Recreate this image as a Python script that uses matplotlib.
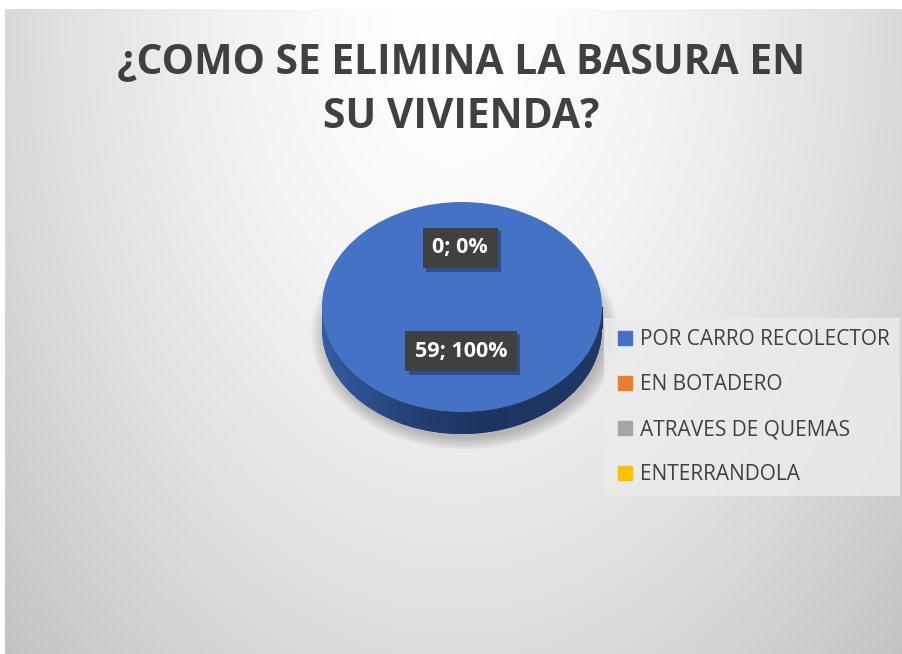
import numpy as np
import matplotlib
matplotlib.use("Agg")
import matplotlib.pyplot as plt
from matplotlib.patches import Rectangle
from matplotlib.lines import Line2D
import matplotlib.patheffects as pe

title = "¿COMO SE ELIMINA LA BASURA EN\nSU VIVIENDA?"
categories = ["POR CARRO RECOLECTOR", "EN BOTADERO", "ATRAVES DE QUEMAS", "ENTERRANDOLA"]
values = [59, 0, 0, 0]
colors = ["#4472C4", "#ED7D31", "#A5A5A5", "#FFC000"]

W, H = 902, 654
fig = plt.figure(figsize=(W / 100, H / 100), dpi=100)
fig.patch.set_facecolor("white")

# background radial gradient (chart area)
bg = fig.add_axes([5 / W, 0, (W - 5) / W, (H - 9) / H])
bg.set_axis_off()
yy, xx = np.mgrid[0:645, 0:897]
cx, cy = 450, 0
r = np.sqrt(((xx - cx) / 560.0) ** 2 + ((yy - cy) / 850.0) ** 2)
val = np.clip(1.0 - 0.205 * r ** 1.5, 0.75, 1)
img = np.dstack([val, val, val])
bg.imshow(img, aspect="auto", extent=[0, 1, 0, 1], origin="upper", interpolation="bilinear")
bg.set_xlim(0, 1)
bg.set_ylim(0, 1)

# pie axes (top face ellipse)
x0, x1, y0, y1 = 322, 602, 202, 412
ax = fig.add_axes([x0 / W, (H - y1 - 0.15 * (y1 - y0)) / H, (x1 - x0) / W, (1.15 * (y1 - y0)) / H])
ax.set_axis_off()
depth = 0.21

# soft shadow
for k in range(10):
    s = 0.99 + 0.012 * k
    ax.pie([1], radius=s, center=(0.02, -depth - 0.05), colors=["#000000"],
           wedgeprops=dict(alpha=0.022, linewidth=0))

# side of the cylinder
side = ax.pie([sum(values)], radius=1.0, center=(0, -depth), colors=["#2a4d8a"],
              wedgeprops=dict(linewidth=0))[0][0]
rect = Rectangle((-1, -depth), 2, depth, facecolor="#2a4d8a", linewidth=0)
ax.add_patch(rect)
gx = np.linspace(0, 1, 256)
grad = np.interp(gx, [0, 0.35, 0.6, 1], [0, 0.75, 1, 0.9])
c_light = np.array([0x33, 0x5c, 0xa3]) / 255
c_dark = np.array([0x1e, 0x34, 0x60]) / 255
gimg = (c_light[None, :] * (1 - grad[:, None]) + c_dark[None, :] * grad[:, None])[None, :, :]
for patch in (side, rect):
    im = ax.imshow(gimg, extent=[-1, 1, -depth - 1.05, 0.05], aspect="auto", zorder=2)
    im.set_clip_path(patch)

# top face
wedges = ax.pie(values, colors=colors, startangle=90, counterclock=False,
                wedgeprops=dict(linewidth=0))[0]
for w in wedges:
    w.set_zorder(3)
ax.set_aspect("auto")
ax.set_xlim(-1, 1)
ax.set_ylim(-1.3, 1)

# data labels (with soft box shadow)
total = sum(values)
label_pos = {1: (460, 248), 0: (461, 351)}
for i, (px, py) in label_pos.items():
    txt = f"{values[i]}; {round(100 * values[i] / total)}%"
    t = fig.text(px / W, 1 - py / H, txt, ha="center", va="center", fontsize=15.5,
                 fontweight="bold", color="white", family="Open Sans", zorder=10,
                 bbox=dict(boxstyle="square,pad=0.45", facecolor="#404040", edgecolor="none"))
    t.get_bbox_patch().set_path_effects([
        pe.SimplePatchShadow(offset=(2.5, -2.5), shadow_rgbFace="black", alpha=0.3),
        pe.Normal()])

# title
fig.text(461 / W, 1 - 90.5 / H, title, ha="center", va="center", fontsize=29.3,
         fontweight="bold", color="#404040", family="Open Sans", linespacing=1.45)

# legend
handles = [Line2D([0], [0], marker="s", linestyle="none", markersize=10,
                  markerfacecolor=c, markeredgecolor=c) for c in colors]
leg = fig.legend(handles, categories, loc="center",
                 bbox_to_anchor=(752 / W, 1 - 407 / H), frameon=True,
                 labelspacing=1.155, handletextpad=0.2,
                 borderpad=0.5, handlelength=1.0, fancybox=False,
                 prop=dict(family="Open Sans", size=15))
leg.get_frame().set_facecolor("#ebebeb")
leg.get_frame().set_alpha(0.85)
leg.get_frame().set_edgecolor("none")
for t in leg.get_texts():
    t.set_color("#404040")

fig.savefig("out.png", dpi=100, facecolor=fig.get_facecolor())
